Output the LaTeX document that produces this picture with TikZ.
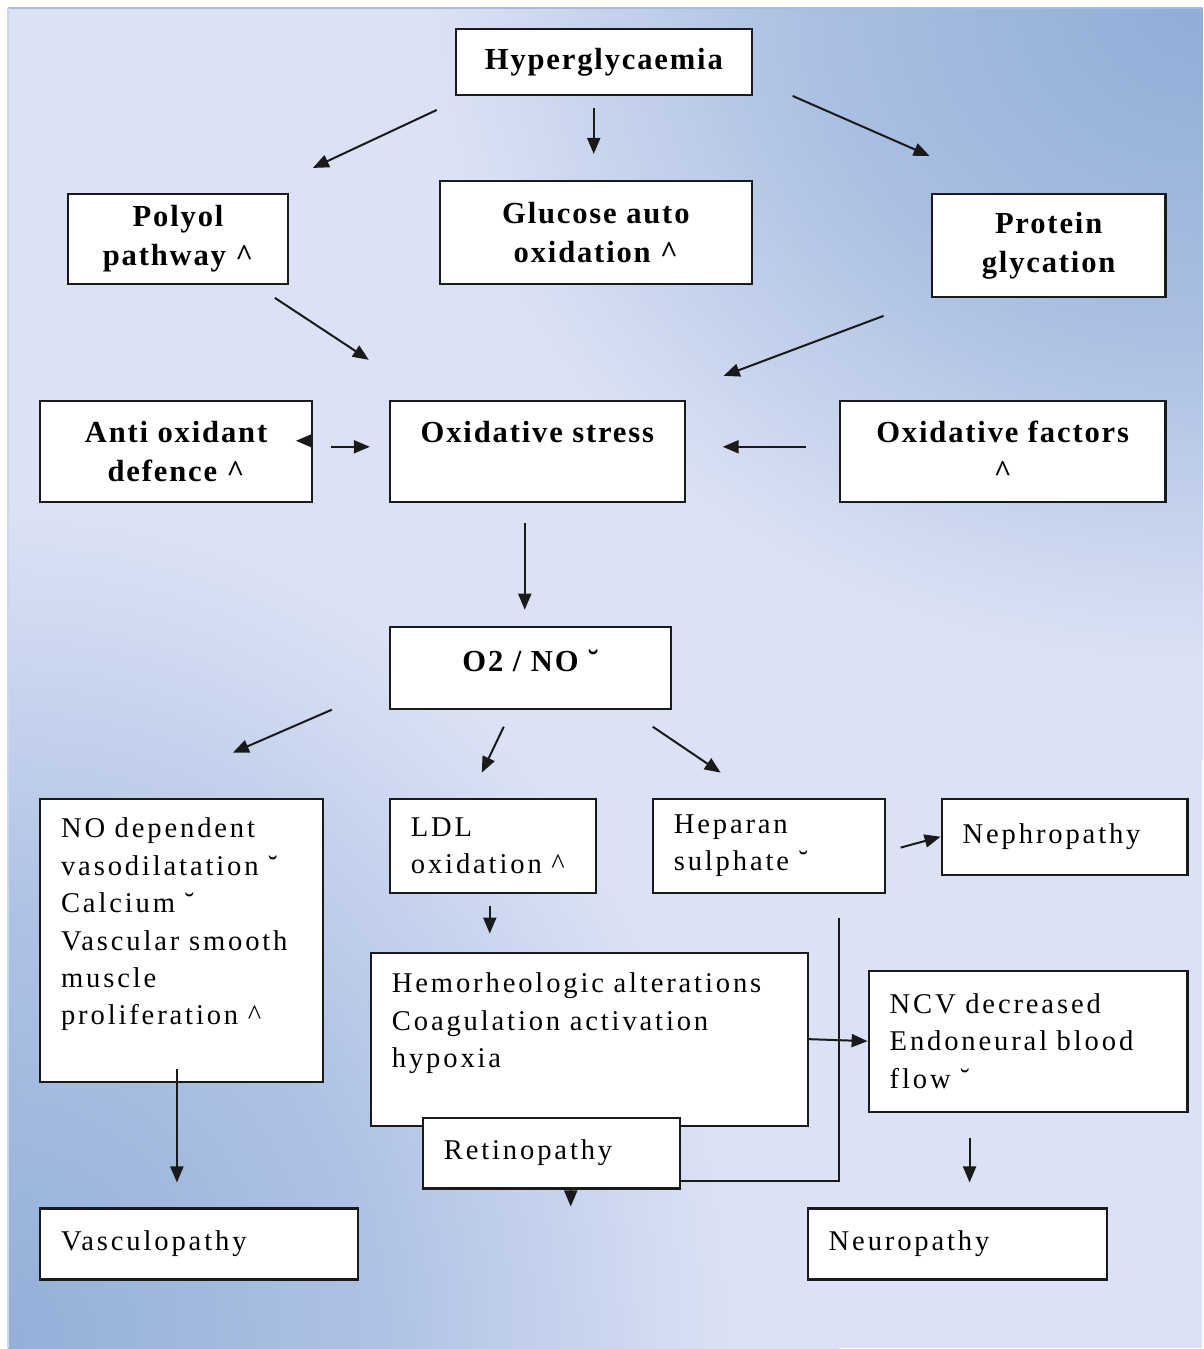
\documentclass[tikz,border=0pt]{standalone}
\usepackage{fontspec}
\setmainfont{Liberation Serif}
\usetikzlibrary{arrows.meta}
\definecolor{bgbase}{HTML}{DCE2F5}
\definecolor{bgtr}{HTML}{90ADD7}
\definecolor{bgtrm}{HTML}{AABFE2}
\definecolor{bgbl}{HTML}{93AFD8}
\definecolor{bgblm}{HTML}{ADC1E4}
\definecolor{bgedge}{HTML}{A9BCE0}
\definecolor{linec}{HTML}{1A1A1A}
\pgfdeclareradialshading{glowtr}{\pgfpoint{0bp}{0bp}}{color(0bp)=(bgtr); color(11bp)=(bgtrm); color(22bp)=(bgbase); color(50bp)=(bgbase)}
\pgfdeclareradialshading{glowbl}{\pgfpoint{0bp}{0bp}}{color(0bp)=(bgbl); color(11bp)=(bgblm); color(22bp)=(bgbase); color(50bp)=(bgbase)}
\begin{document}
\begin{tikzpicture}[x=0.5pt,y=-0.5pt,
  box/.style={draw=linec, line width=1.1pt, fill=white, inner sep=0pt, anchor=north west},
  bold/.style={font=\fontsize{15.3}{19.5}\selectfont\bfseries\addfontfeature{LetterSpace=6}, align=center},
  reg/.style={font=\fontsize{14.3}{18.7}\selectfont\addfontfeature{LetterSpace=10}, align=left, inner xsep=10.5pt},
  arr/.style={draw=linec, line width=1pt, -{Triangle[length=8pt,width=6.5pt]}}]
% background
\fill[white] (0,0) rectangle (1203,1349);
\begin{scope}
\clip (8,8) rectangle (1203,1349);
\fill[bgbase] (8,8) rectangle (1203,1349);
\shade[shading=glowtr] (1203,0) ellipse [x radius=440pt, y radius=380pt];
\shade[shading=glowbl] (0,1349) ellipse [x radius=420pt, y radius=480pt];
\end{scope}
\draw[bgedge, line width=1pt] (8,8) -- (1203,8);
\draw[bgedge!60, line width=0.6pt] (8,8) -- (8,1349);

% boxes
\node[box, bold, minimum width=148pt, minimum height=33pt] (hyper) at (455,28) {Hyperglycaemia};
\node[box, bold, minimum width=110pt, minimum height=45pt] (polyol) at (67,193) {Polyol\\pathway \textasciicircum};
\node[box, bold, minimum width=156pt, minimum height=51.5pt] (glucose) at (439,180) {Glucose auto\\oxidation \textasciicircum};
\node[box, bold, minimum width=117pt, minimum height=51.5pt] (protein) at (931,193) {Protein\\glycation};
\node[box, bold, minimum width=136pt, minimum height=50.5pt] (anti) at (39,400) {Anti oxidant\\defence \textasciicircum};
\node[box, bold, minimum width=147.5pt, minimum height=50.5pt] (oxstress) at (389,400) {Oxidative stress\\\mbox{}};
\node[box, bold, minimum width=163pt, minimum height=50.5pt] (oxfact) at (839,400) {Oxidative factors\\\textasciicircum};
\node[box, bold, minimum width=140.5pt, minimum height=41pt] (o2no) at (389,626) {O2 / NO ˘\\[-12pt]\mbox{}};

\node[box, reg, text width=120.5pt, minimum height=141.5pt] (nodep) at (39,798)
  {NO dependent\\vasodilatation ˘\\Calcium ˘\\Vascular~smooth\\muscle\\proliferation \textasciicircum\\\mbox{}};
\node[box, reg, text width=82pt, minimum height=47pt] (ldl) at (389,798) {LDL\\oxidation \textasciicircum};
\node[box, reg, text width=95pt, minimum height=47pt] (heparan) at (652,798) {Heparan\\sulphate ˘};
\node[box, reg, text width=102pt, minimum height=38pt] (nephro) at (941,798) {Nephropathy};
\node[box, reg, text width=197.5pt, minimum height=86.5pt] (hemo) at (370,952)
  {Hemorheologic~alterations\\Coagulation~activation\\hypoxia\\\mbox{}};
\node[box, reg, text width=107.5pt, minimum height=35.5pt] (retino) at (422,1117) {Retinopathy};
\node[box, reg, text width=138.5pt, minimum height=70.5pt] (ncv) at (868,970)
  {NCV decreased\\Endoneural~blood\\flow ˘};
\node[box, reg, text width=138pt, minimum height=35.5pt] (vasculo) at (39,1208) {Vasculopathy};
\node[box, reg, text width=128.5pt, minimum height=35.5pt] (neuro) at (807,1208) {Neuropathy};

% connector end points
\coordinate (h2pA) at (437,110); \coordinate (h2pB) at (313,168);
\coordinate (h2gA) at (594,108); \coordinate (h2gB) at (594,154);
\coordinate (h2rA) at (793,96);  \coordinate (h2rB) at (930,156);
\coordinate (p2oA) at (275,298); \coordinate (p2oB) at (369,360);
\coordinate (r2oA) at (884,316); \coordinate (r2oB) at (724,376);
\coordinate (antiA) at (312,441); \coordinate (antiB) at (296,441);
\coordinate (a2oA) at (331,447); \coordinate (a2oB) at (370,447);
\coordinate (f2oA) at (806,447); \coordinate (f2oB) at (723,447);
\coordinate (s2nA) at (525,523); \coordinate (s2nB) at (525,610);
\coordinate (n2dA) at (332,710); \coordinate (n2dB) at (233,753);
\coordinate (n2lA) at (504,727); \coordinate (n2lB) at (482,773);
\coordinate (n2hA) at (653,727); \coordinate (n2hB) at (721,773);
\coordinate (h2eA) at (901,848);
\coordinate (l2hA) at (490,906); \coordinate (l2hB) at (490,934);
\coordinate (d2vA) at (177,1069); \coordinate (d2vB) at (177,1183);
\coordinate (vtop) at (839,918); \coordinate (vcorner) at (839,1182);
\coordinate (rdown) at (571,1207);
\coordinate (c2nA) at (970,1138); \coordinate (c2nB) at (970,1183);

% connectors
\draw[arr] (h2pA) -- (h2pB);
\draw[arr] (h2gA) -- (h2gB);
\draw[arr] (h2rA) -- (h2rB);
\draw[arr] (p2oA) -- (p2oB);
\draw[arr] (r2oA) -- (r2oB);
\draw[arr] (antiA) -- (antiB);
\draw[arr] (a2oA) -- (a2oB);
\draw[arr] (f2oA) -- (f2oB);
\draw[arr] (s2nA) -- (s2nB);
\draw[arr] (n2dA) -- (n2dB);
\draw[arr] (n2lA) -- (n2lB);
\draw[arr] (n2hA) -- (n2hB);
\draw[arr] (h2eA) -- (nephro.west);
\draw[arr] (l2hA) -- (l2hB);
\draw[arr] (d2vA) -- (d2vB);
\draw[arr] (hemo.east) -- (ncv.west);
\draw[draw=linec, line width=1pt] (vtop) -- (vcorner) -- (vcorner -| retino.east);
\draw[arr] (rdown |- retino.south) -- (rdown);
\draw[arr] (c2nA) -- (c2nB);
\end{tikzpicture}
\end{document}
